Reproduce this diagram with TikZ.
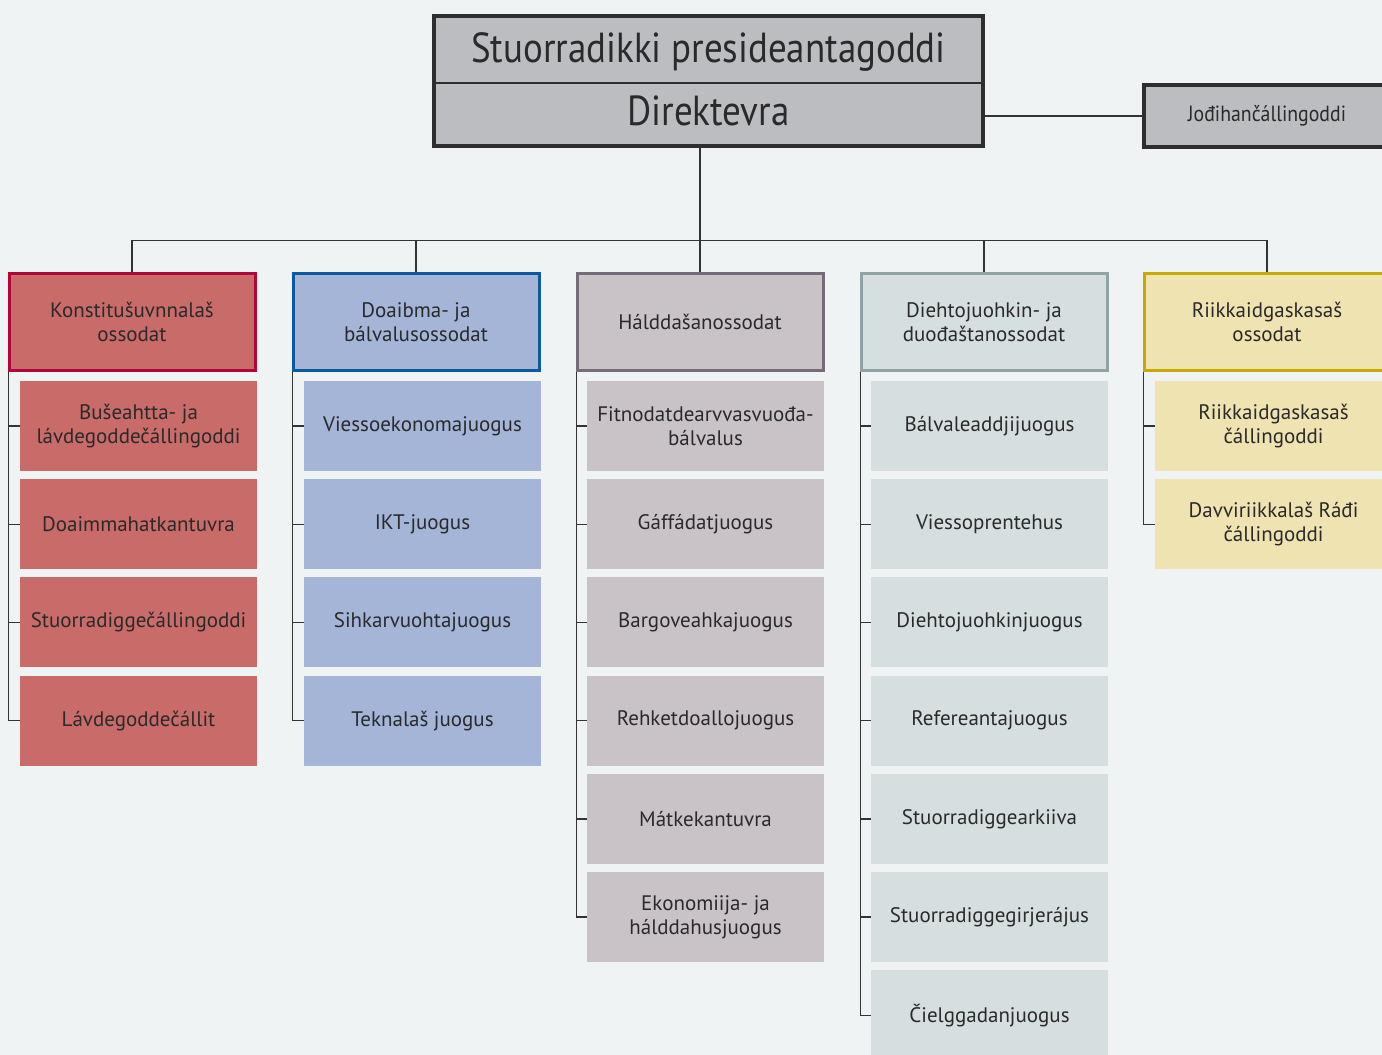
\documentclass[tikz,border=0pt]{standalone}
\usepackage{fontspec}
\setmainfont{PT Sans}
\newfontfamily\narrowfont[FakeStretch=0.88]{PT Sans}
\newfontfamily\smallnarrowfont[FakeStretch=0.9]{PT Sans}
\usepackage{tikz}
\usetikzlibrary{positioning,calc}
\definecolor{bgcol}{HTML}{EFF3F4}
\definecolor{textcol}{HTML}{2A2A2A}
\definecolor{linecol}{HTML}{333333}
\definecolor{topfill}{HTML}{BCBDC1}
\definecolor{topline}{HTML}{2E2E2E}
\definecolor{redfill}{HTML}{C86B69}
\definecolor{redline}{HTML}{B0063A}
\definecolor{bluefill}{HTML}{A4B5D8}
\definecolor{blueline}{HTML}{0B5AA0}
\definecolor{mauvefill}{HTML}{C9C3C8}
\definecolor{mauveline}{HTML}{766B78}
\definecolor{tealfill}{HTML}{D5DFDF}
\definecolor{tealline}{HTML}{8FA4A4}
\definecolor{yellowfill}{HTML}{EEE3B1}
\definecolor{yellowline}{HTML}{C9A900}

\begin{document}
\begin{tikzpicture}[x=0.5pt, y=-0.5pt,
    headbox/.style={line width=1.5pt, minimum width=123pt, minimum height=48.5pt,
        align=center, text=textcol, font=\fontsize{10.5}{12}\selectfont},
    unitbox/.style={minimum width=118.5pt, minimum height=45pt, inner sep=2pt,
        align=center, text=textcol, font=\fontsize{10.5}{12}\selectfont},
    link/.style={draw=linecol, line width=0.7pt}]
    \useasboundingbox[fill=bgcol] (0,0) rectangle (1382,1055);

    % Top box
    \node[draw=topline, fill=topfill, line width=2pt, minimum width=274.5pt,
        minimum height=65pt] (top) at (708.5,81) {};
    \coordinate (split) at (700,83);
    \draw[topline, line width=0.6pt] (top.west |- split) -- (top.east |- split);
    \node[text=textcol, font=\narrowfont\fontsize{21}{24}\selectfont] (pres) at (708.5,52) {Stuorradikki presideantagoddi};
    \node[text=textcol, font=\narrowfont\fontsize{21}{24}\selectfont] (dir) at (708.5,111) {Direktevra};
    \node[draw=topline, fill=topfill, line width=2pt, minimum width=123pt, minimum height=31pt,
        text=textcol, font=\smallnarrowfont\fontsize{11}{13}\selectfont] (jod) at (1267,116) {Jođihančállingoddi};
    \draw[link] (jod.west) -- (jod.west -| top.east);

    % Headers
    \node[headbox, draw=redline, fill=redfill] (h1) at (132,322) {Konstitušuvnnalaš\\ossodat};
    \node[headbox, draw=blueline, fill=bluefill] (h2) at (416,322) {Doaibma- ja\\bálvalusossodat};
    \node[headbox, draw=mauveline, fill=mauvefill] (h3) at (700,322) {Hálddašanossodat};
    \node[headbox, draw=tealline, fill=tealfill] (h4) at (984,322) {Diehtojuohkin- ja\\duođaštanossodat};
    \node[headbox, draw=yellowline, fill=yellowfill] (h5) at (1267,322) {Riikkaidgaskasaš\\ossodat};

    % Tree from the top
    \draw[link] (top.south -| h3.north) -- (h3.north);
    \draw[link] (h1.north) -- ++(0,-31.5) -| (h5.north);
    \foreach \i in {2,4}
        \draw[link] (h\i.north) -- ++(0,-31.5);

    % Units
    \foreach \t [count=\k] in {{Bušeahtta- ja\\lávdegoddečállingoddi}, Doaimmahatkantuvra,
        Stuorradiggečállingoddi, Lávdegoddečállit}
        \node[unitbox, fill=redfill] (c1\k) at (138.5,{426+98.2*(\k-1)}) {\t};
    \foreach \t [count=\k] in {Viessoekonomajuogus, IKT-juogus, Sihkarvuohtajuogus,
        Teknalaš juogus}
        \node[unitbox, fill=bluefill] (c2\k) at (422.5,{426+98.2*(\k-1)}) {\t};
    \foreach \t [count=\k] in {{Fitnodatdearvvasvuođa-\\bálvalus}, Gáffádatjuogus,
        Bargoveahkajuogus, Rehketdoallojuogus, Mátkekantuvra,
        {Ekonomiija- ja\\hálddahusjuogus}}
        \node[unitbox, fill=mauvefill] (c3\k) at (705.5,{426+98.2*(\k-1)}) {\t};
    \foreach \t [count=\k] in {Bálvaleaddjijuogus, Viessoprentehus, Diehtojuohkinjuogus,
        Refereantajuogus, Stuorradiggearkiiva, Stuorradiggegirjerájus, Čielggadanjuogus}
        \node[unitbox, fill=tealfill] (c4\k) at (989.5,{426+98.2*(\k-1)}) {\t};
    \foreach \t [count=\k] in {{Riikkaidgaskasaš\\čállingoddi}, {Davviriikkalaš Ráđi\\čállingoddi}}
        \node[unitbox, fill=yellowfill] (c5\k) at (1273.5,{426+98.2*(\k-1)}) {\t};

    % Side lines to the units
    \foreach \i/\n in {1/4, 2/4, 3/6, 4/7, 5/2}
        \foreach \k in {1,...,\n}
            \draw[link] (c\i\k.west) -| ([xshift=0.5pt]h\i.south west);
\end{tikzpicture}
\end{document}
